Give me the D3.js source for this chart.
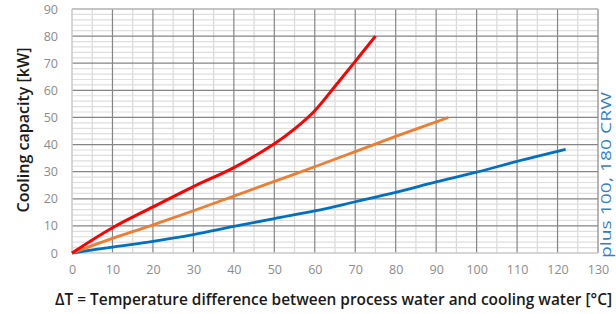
<!DOCTYPE html>
<html lang="en">
<head>
    <meta charset="UTF-8">
    <title>Cooling capacity</title>
    <script src="https://cdnjs.cloudflare.com/ajax/libs/d3/7.9.0/d3.min.js"></script>
    <style>
        html, body { margin: 0; padding: 0; background: #fff; }
        svg { display: block; }
    </style>
</head>
<body>
    <div id="chart"></div>
    <script>
        // values (x = delta T in °C, y = kW)
        const redX = [0, 10, 20, 30, 40, 50, 55, 60, 65, 70, 75];
        const redY = [0, 9.3, 17, 24.5, 31.5, 40.3, 45.8, 52.5, 61.5, 70.7, 80];
        const orangeX = [0, 10, 20, 30, 40, 50, 60, 70, 80, 93];
        const orangeY = [0, 5.4, 10.4, 15.6, 21, 26.4, 31.8, 37.4, 43, 50];
        const blueX = [0, 10, 20, 30, 40, 50, 60, 70, 80, 90, 100, 110, 122];
        const blueY = [0, 2.2, 4.3, 6.8, 9.8, 12.7, 15.5, 18.9, 22.4, 26.2, 29.8, 33.8, 38.2];
        const xTicks = [0, 10, 20, 30, 40, 50, 60, 70, 80, 90, 100, 110, 120, 130];
        const yTicks = [0, 10, 20, 30, 40, 50, 60, 70, 80, 90];

        const width = 616, height = 314;
        const margin = { top: 9, right: 18, bottom: 61, left: 72 };

        const svg = d3.select('#chart').append('svg')
            .attr('width', width)
            .attr('height', height);

        const x = d3.scaleLinear().domain([0, 130]).range([margin.left, width - margin.right]);
        const y = d3.scaleLinear().domain([0, 90]).range([height - margin.bottom, margin.top]);

        // minor grid
        const grid = svg.append('g');
        grid.selectAll('.vminor')
            .data(d3.range(5, 130, 10))
            .enter().append('line')
            .attr('x1', d => x(d)).attr('x2', d => x(d))
            .attr('y1', y(0)).attr('y2', y(90))
            .attr('stroke', '#d9d9d9').attr('stroke-width', 1.2);
        grid.selectAll('.hminor')
            .data(d3.range(2, 90, 2).filter(d => d % 10 !== 0))
            .enter().append('line')
            .attr('x1', x(0)).attr('x2', x(130))
            .attr('y1', d => y(d)).attr('y2', d => y(d))
            .attr('stroke', '#dedede').attr('stroke-width', 1.2);

        // major grid
        grid.selectAll('.vmajor')
            .data(xTicks.slice(1))
            .enter().append('line')
            .attr('x1', d => x(d)).attr('x2', d => x(d))
            .attr('y1', y(0)).attr('y2', y(90))
            .attr('stroke', '#858585').attr('stroke-width', 1.2);
        grid.selectAll('.hmajor')
            .data(yTicks.slice(1, -1))
            .enter().append('line')
            .attr('x1', x(0)).attr('x2', x(130))
            .attr('y1', d => y(d)).attr('y2', d => y(d))
            .attr('stroke', '#858585').attr('stroke-width', 1.2);

        // frame
        grid.append('line')
            .attr('x1', x(0)).attr('x2', x(130)).attr('y1', y(90)).attr('y2', y(90))
            .attr('stroke', '#b0b0b0').attr('stroke-width', 1.5);
        grid.append('line')
            .attr('x1', x(0)).attr('x2', x(130)).attr('y1', y(0)).attr('y2', y(0))
            .attr('stroke', '#c8c8c8').attr('stroke-width', 1.5);
        grid.append('line')
            .attr('x1', x(0)).attr('x2', x(0)).attr('y1', y(0)).attr('y2', y(90))
            .attr('stroke', '#c8c8c8').attr('stroke-width', 1.5);

        // axes (labels only)
        const xAxis = svg.append('g')
            .attr('transform', `translate(0,${y(0)})`)
            .call(d3.axisBottom(x).tickValues(xTicks).tickSize(0).tickPadding(12));
        const yAxis = svg.append('g')
            .attr('transform', `translate(${x(0)},0)`)
            .call(d3.axisLeft(y).tickValues(yTicks).tickSize(0).tickPadding(14));
        [xAxis, yAxis].forEach(a => {
            a.select('.domain').remove();
            a.selectAll('text')
                .attr('fill', '#8c8c8c')
                .style('font-family', '"Open Sans", sans-serif')
                .style('font-size', '12.5px');
        });

        // series
        const line = d3.line()
            .x(d => x(d[0]))
            .y(d => y(d[1]))
            .curve(d3.curveCatmullRom.alpha(0.5));

        const series = [
            { xs: blueX, ys: blueY, color: '#0070c0', w: 2.8 },
            { xs: orangeX, ys: orangeY, color: '#ed7d31', w: 2.8 },
            { xs: redX, ys: redY, color: '#ff0000', w: 3 }
        ];
        series.forEach(s => {
            svg.append('path')
                .datum(s.xs.map((v, i) => [v, s.ys[i]]))
                .attr('d', line)
                .attr('fill', 'none')
                .attr('stroke', s.color)
                .attr('stroke-width', s.w)
                .attr('stroke-linejoin', 'round');
        });

        // titles
        svg.append('text')
            .attr('x', 55)
            .attr('y', 305)
            .attr('textLength', 557)
            .attr('lengthAdjust', 'spacingAndGlyphs')
            .style('font-family', '"Open Sans", sans-serif')
            .style('font-weight', 600)
            .style('font-size', '15.5px')
            .attr('fill', '#1a1a1a')
            .text('ΔT = Temperature difference between process water and cooling water [°C]');

        svg.append('text')
            .attr('transform', 'translate(29,130) rotate(-90)')
            .attr('text-anchor', 'middle')
            .attr('textLength', 165)
            .attr('lengthAdjust', 'spacingAndGlyphs')
            .style('font-family', '"Open Sans", sans-serif')
            .style('font-weight', 600)
            .style('font-size', '15.5px')
            .attr('fill', '#1a1a1a')
            .text('Cooling capacity [kW]');

        svg.append('text')
            .attr('transform', 'translate(611,258) rotate(-90)')
            .attr('text-anchor', 'start')
            .attr('textLength', 166)
            .attr('lengthAdjust', 'spacingAndGlyphs')
            .style('font-family', '"Open Sans", sans-serif')
            .style('font-size', '14px')
            .attr('fill', '#2f7fd0')
            .text('plus 100, 180 CRW');
    </script>
</body>
</html>
